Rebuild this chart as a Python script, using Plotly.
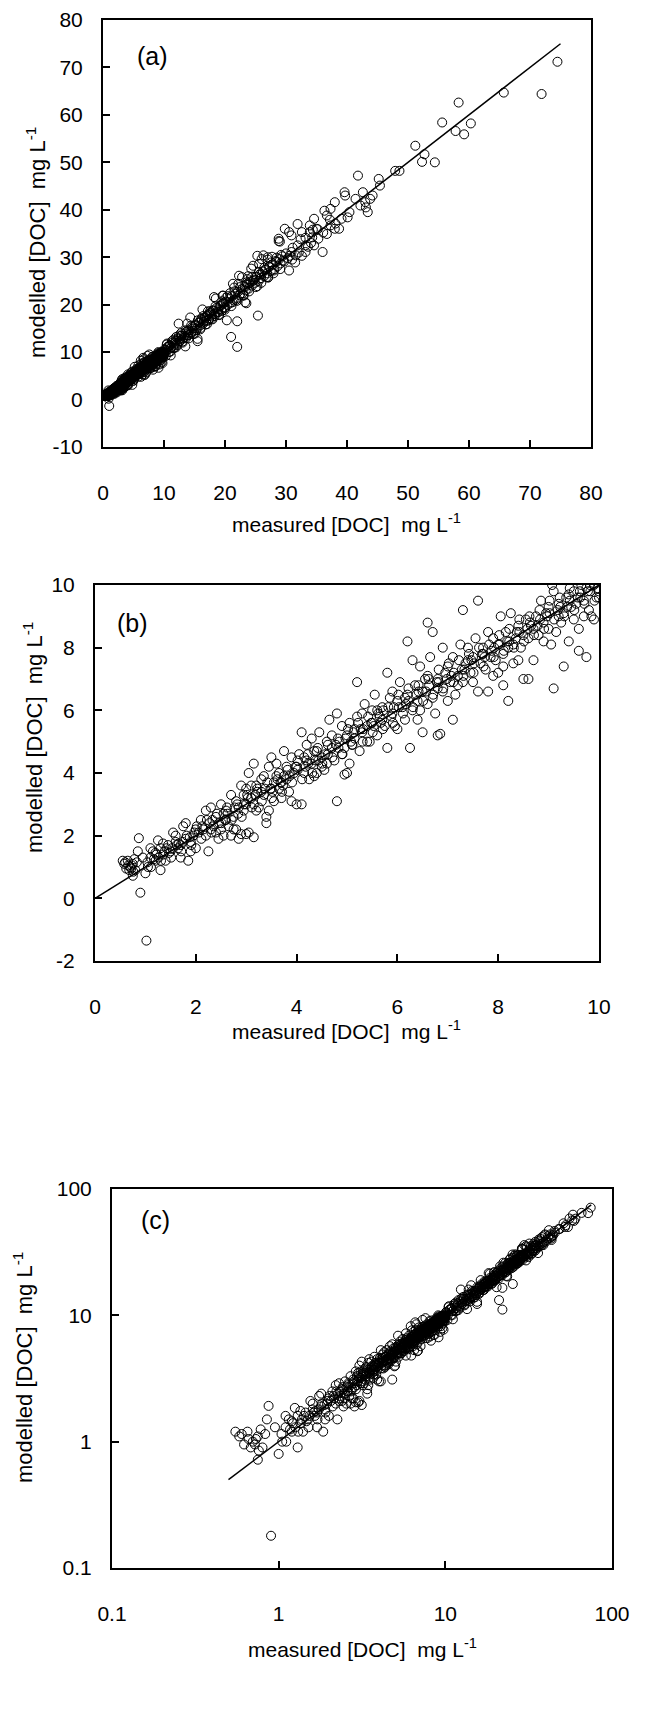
import math
import plotly.graph_objects as go

# measured vs modelled [DOC] (mg L-1), grouped by measured range
meas_lt2 = [0.55, 0.60, 0.62, 0.65, 0.68, 0.70, 0.72, 0.73, 0.75, 0.75,
            0.76, 0.78, 0.80, 0.85, 0.87, 0.90, 1.02, 0.95, 1.00, 1.05,
            1.10, 1.10, 1.15, 1.20, 1.20, 1.25, 1.30, 1.30, 1.35, 1.35,
            1.40, 1.45, 1.50, 1.55, 1.60, 1.60, 1.65, 1.70, 1.70, 1.75,
            1.80, 1.80, 1.85, 1.90, 1.90, 1.95, 2.00, 0.66, 0.58, 0.83]
mod_lt2 = [1.20, 1.15, 0.95, 1.20, 0.90, 1.00, 0.95, 1.05, 1.10, 0.72,
           0.85, 1.25, 0.90, 1.50, 1.92, 0.18, -1.35, 1.30, 0.80, 1.00,
           1.30, 1.60, 1.50, 1.20, 1.45, 1.85, 0.90, 1.60, 1.40, 1.75,
           1.20, 1.70, 1.50, 2.10, 1.80, 2.00, 1.60, 1.30, 1.70, 2.30,
           1.90, 2.40, 1.20, 1.50, 1.80, 2.00, 2.20, 1.05, 1.10, 1.15]

meas_2_4 = [2.00, 2.10, 2.20, 2.25, 2.30, 2.35, 2.40, 2.45, 2.50, 2.50,
            2.55, 2.60, 2.65, 2.70, 2.70, 2.75, 2.80, 2.80, 2.85, 2.90,
            2.90, 2.95, 3.00, 3.05, 3.15, 2.20, 2.40, 2.60, 2.30, 2.15,
            2.85, 2.95, 3.00, 2.55, 2.75, 3.00, 3.05, 3.10, 3.15, 3.20,
            3.25, 3.30, 3.35, 3.40, 3.45, 3.50, 3.50, 3.55, 3.60, 3.65,
            3.70, 3.75, 3.80, 3.85, 3.90, 3.95, 3.40, 3.45, 3.20, 3.30,
            3.60, 3.70, 3.80, 3.90, 3.10, 3.35, 3.55, 3.75, 3.15, 3.65]
mod_2_4 = [1.60, 2.50, 2.00, 1.50, 2.90, 2.30, 2.60, 1.90, 3.00, 2.20,
           2.00, 2.80, 2.30, 3.30, 2.00, 2.60, 3.10, 2.20, 1.90, 2.05,
           3.60, 2.80, 2.05, 2.10, 1.95, 2.80, 2.10, 2.50, 2.20, 2.20,
           2.90, 3.30, 3.00, 2.70, 2.20, 3.50, 4.00, 3.20, 4.30, 3.60,
           2.90, 3.80, 3.30, 2.60, 4.20, 3.50, 4.50, 3.10, 3.90, 3.50,
           3.20, 4.70, 3.80, 3.40, 4.50, 4.00, 2.40, 2.80, 2.80, 3.40,
           4.30, 3.70, 4.20, 3.10, 3.60, 3.90, 3.70, 3.90, 3.00, 4.00]

meas_4_6 = [4.00, 4.10, 4.00, 4.05, 4.10, 4.15, 4.20, 4.25, 4.30, 4.30,
            4.35, 4.40, 4.45, 4.50, 4.55, 4.60, 4.60, 4.65, 4.70, 4.75,
            4.80, 4.80, 4.85, 4.90, 4.95, 5.00, 5.05, 4.20, 4.40, 4.70,
            4.90, 4.50, 4.15, 4.35, 4.95, 5.00, 5.05, 5.10, 5.15, 5.20,
            5.20, 5.25, 5.30, 5.35, 5.40, 5.45, 5.50, 5.50, 5.55, 5.60,
            5.65, 5.70, 5.75, 5.80, 5.80, 5.85, 5.90, 5.95, 6.00, 5.30,
            5.60, 5.40, 5.70, 5.90, 5.15]
mod_4_6 = [3.00, 3.00, 4.20, 4.60, 5.30, 4.00, 4.40, 3.80, 5.10, 4.30,
           4.70, 4.00, 5.30, 4.50, 4.10, 5.00, 4.30, 5.70, 4.80, 4.40,
           5.90, 3.10, 5.00, 4.60, 3.95, 4.00, 4.30, 4.90, 4.70, 5.20,
           5.50, 4.20, 4.50, 3.90, 4.80, 5.20, 5.60, 4.90, 5.40, 6.90,
           5.80, 4.70, 5.30, 6.20, 5.50, 5.00, 6.00, 5.60, 6.50, 5.20,
           5.80, 6.10, 5.50, 4.80, 7.20, 6.40, 5.90, 5.50, 6.30, 5.90,
           6.00, 5.00, 5.70, 6.60, 5.10]

meas_6_8 = [6.00, 6.05, 6.10, 6.15, 6.20, 6.20, 6.25, 6.30, 6.30, 6.35,
            6.40, 6.45, 6.50, 6.50, 6.55, 6.60, 6.60, 6.65, 6.70, 6.70,
            6.75, 6.80, 6.80, 6.85, 6.90, 6.90, 6.95, 6.40, 6.60, 6.80,
            6.15, 6.45, 7.00, 7.00, 7.05, 7.10, 7.10, 7.15, 7.20, 7.25,
            7.30, 7.30, 7.35, 7.40, 7.45, 7.50, 7.50, 7.55, 7.60, 7.60,
            7.65, 7.70, 7.75, 7.80, 7.80, 7.85, 7.90, 7.95, 7.20, 7.40,
            7.70, 7.90]
mod_6_8 = [5.40, 6.90, 6.10, 5.70, 8.20, 6.50, 4.80, 7.60, 6.00, 6.80,
           5.70, 7.40, 5.30, 6.60, 7.00, 8.80, 6.20, 7.70, 8.50, 6.40,
           5.90, 7.00, 5.20, 5.25, 8.00, 6.60, 7.20, 6.30, 7.10, 6.70,
           6.40, 6.00, 7.40, 6.30, 6.90, 5.70, 7.70, 6.50, 7.10, 8.10,
           9.20, 6.90, 7.50, 8.00, 7.20, 7.70, 6.90, 8.30, 9.50, 6.60,
           7.50, 8.00, 7.30, 6.60, 8.50, 7.70, 8.30, 7.60, 6.80, 7.60,
           7.80, 7.10]

meas_8_10 = [8.00, 8.00, 8.05, 8.10, 8.10, 8.15, 8.20, 8.20, 8.25, 8.30,
             8.35, 8.40, 8.40, 8.45, 8.50, 8.55, 8.60, 8.60, 8.65, 8.70,
             8.75, 8.80, 8.85, 8.90, 8.95, 8.30, 8.50, 8.70, 8.90, 8.10,
             9.00, 9.05, 9.10, 9.10, 9.15, 9.20, 9.25, 9.30, 9.30, 9.35,
             9.40, 9.45, 9.50, 9.50, 9.55, 9.60, 9.60, 9.65, 9.70, 9.75,
             9.75, 9.80, 9.85, 9.90, 9.95, 9.00, 9.20, 9.40, 9.70, 9.90,
             9.07, 10.00]
mod_8_10 = [7.20, 8.10, 9.00, 6.80, 7.80, 8.50, 6.30, 8.00, 9.10, 7.50,
            8.30, 8.70, 7.60, 8.00, 7.00, 8.90, 7.00, 8.30, 8.70, 7.60,
            9.00, 8.40, 9.50, 8.20, 9.10, 8.10, 8.40, 8.60, 8.80, 7.40,
            9.30, 8.10, 6.70, 9.80, 8.50, 9.40, 8.80, 7.40, 9.10, 9.60,
            8.20, 9.30, 9.80, 8.90, 9.40, 7.90, 8.60, 10.00, 9.50, 7.70,
            9.90, 9.20, 9.00, 10.00, 9.60, 8.60, 9.00, 9.70, 9.00, 8.90,
            10.00, 9.60]

# dense core of the cloud close to the 1:1 line
meas_core_a = [1.04, 1.17, 1.26, 1.38, 1.47, 1.53, 1.66, 1.74, 1.88, 1.97,
               2.06, 2.13, 2.27, 2.33, 2.46, 2.58, 2.63, 2.77, 2.84, 2.96,
               3.03, 3.18, 3.22, 3.37, 3.48, 3.52, 3.68, 3.73, 3.86, 3.98,
               4.02, 4.18, 4.23, 4.38, 4.43, 4.57, 4.62, 4.78, 4.83, 4.97,
               5.08, 5.13, 5.27, 5.32, 5.48, 5.53, 5.67, 5.72, 5.88, 5.93,
               6.03, 6.17, 6.22, 6.38, 6.42, 6.57, 6.63, 6.78, 6.82, 6.98,
               7.07, 7.12, 7.28, 7.33, 7.47, 7.52, 7.68, 7.73, 7.87, 7.92,
               8.03, 8.18, 8.22, 8.37, 8.42, 8.58, 8.63, 8.78, 8.83, 8.97,
               9.02, 9.18, 9.23, 9.37, 9.42, 9.58, 9.63, 9.78, 9.83, 9.97]
mod_core_a = [1.15, 1.25, 1.30, 1.50, 1.45, 1.60, 1.75, 1.80, 1.95, 2.10,
              2.10, 2.30, 2.40, 2.50, 2.40, 2.50, 2.70, 2.90, 2.70, 3.00,
              3.20, 3.30, 3.40, 3.50, 3.50, 3.40, 3.70, 3.60, 3.90, 4.20,
              4.10, 4.20, 4.30, 4.40, 4.40, 4.60, 4.60, 4.90, 4.80, 5.10,
              5.00, 5.30, 5.40, 5.40, 5.60, 5.50, 5.60, 6.00, 5.80, 6.10,
              6.10, 6.20, 6.30, 6.50, 6.60, 6.60, 6.80, 6.90, 6.90, 7.00,
              7.10, 7.20, 7.30, 7.30, 7.60, 7.50, 7.80, 7.70, 7.90, 8.00,
              8.10, 8.20, 8.20, 8.50, 8.50, 8.60, 8.80, 8.70, 8.90, 9.00,
              9.10, 9.20, 9.30, 9.30, 9.50, 9.60, 9.60, 9.80, 9.80, 9.90]

meas_core_b = [1.11, 1.22, 1.31, 1.42, 1.51, 1.62, 1.71, 1.82, 1.91, 2.02,
               2.11, 2.22, 2.31, 2.42, 2.51, 2.62, 2.71, 2.82, 2.91, 3.02,
               3.11, 3.22, 3.31, 3.42, 3.51, 3.62, 3.71, 3.82, 3.91, 4.02,
               4.11, 4.22, 4.31, 4.42, 4.51, 4.62, 4.71, 4.82, 4.91, 5.02,
               5.11, 5.22, 5.31, 5.42, 5.51, 5.62, 5.71, 5.82, 5.91, 6.02,
               6.11, 6.22, 6.31, 6.42, 6.51, 6.62, 6.71, 6.82, 6.91, 7.02,
               7.11, 7.22, 7.31, 7.42, 7.51, 7.62, 7.71, 7.82, 7.91, 8.02,
               8.11, 8.22, 8.31, 8.42, 8.51, 8.62, 8.71, 8.82, 8.91, 9.02,
               9.11, 9.22, 9.31, 9.42, 9.51, 9.62, 9.71, 9.82, 9.91, 9.99]
mod_core_b = [1.00, 1.40, 1.20, 1.60, 1.30, 1.70, 1.50, 2.00, 1.70, 2.30,
              1.90, 2.50, 2.10, 2.70, 2.40, 2.90, 2.50, 3.00, 2.60, 3.30,
              2.90, 3.50, 3.10, 3.70, 3.20, 3.80, 3.40, 4.10, 3.70, 4.40,
              3.80, 4.60, 4.00, 4.80, 4.30, 4.90, 4.50, 5.10, 4.60, 5.40,
              4.90, 5.60, 5.00, 5.80, 5.30, 5.90, 5.40, 6.10, 5.60, 6.50,
              5.90, 6.70, 6.10, 6.80, 6.30, 7.00, 6.50, 7.30, 6.70, 7.50,
              6.90, 7.60, 7.10, 7.80, 7.20, 8.00, 7.40, 8.10, 7.70, 8.40,
              7.90, 8.60, 8.00, 8.90, 8.20, 9.00, 8.40, 9.20, 8.60, 9.50,
              8.90, 9.60, 9.00, 9.90, 9.20, 9.80, 9.40, 10.00, 9.50, 9.80]

meas_10_30 = [10.2, 10.5, 10.8, 11.0, 11.3, 11.5, 11.8, 12.0, 12.2, 12.5,
              12.8, 13.0, 13.3, 13.5, 13.8, 14.0, 14.3, 14.5, 14.8, 15.0,
              15.3, 15.5, 15.8, 16.0, 16.3, 16.5, 16.8, 17.0, 17.3, 17.5,
              17.8, 18.0, 18.3, 18.5, 18.8, 19.0, 19.3, 19.5, 19.8, 20.0,
              10.3, 11.2, 12.6, 13.9, 15.1, 16.6, 17.7, 18.9, 11.7, 14.6,
              16.1, 17.2, 19.7, 12.9, 10.7, 13.6, 18.2, 11.1, 12.4, 13.8,
              15.5, 18.2, 19.6, 20.2, 20.3, 20.8, 21.0, 21.2, 21.3, 21.5,
              21.8, 22.0, 22.0, 22.2, 22.3, 22.5, 22.8, 23.0, 23.3, 23.3,
              23.5, 23.7, 23.8, 24.0, 24.3, 24.6, 24.6, 25.0, 25.3, 25.3,
              25.4, 25.6, 26.0, 26.0, 26.3, 26.5, 26.8, 27.0, 27.0, 27.1,
              27.3, 27.7, 28.0, 28.4, 29.2, 29.5]
mod_10_30 = [10.5, 11.8, 10.0, 11.5, 12.3, 10.8, 12.0, 13.2, 11.5, 12.7,
             14.0, 12.2, 13.5, 11.2, 14.5, 13.6, 17.3, 14.2, 13.8, 15.6,
             14.6, 12.3, 16.2, 15.1, 19.0, 16.4, 15.8, 17.6, 16.7, 18.2,
             17.0, 18.8, 17.6, 21.3, 18.5, 17.9, 19.8, 18.7, 20.4, 19.3,
             9.2, 11.0, 12.3, 13.9, 15.0, 16.7, 17.9, 19.0, 10.9, 15.3,
             17.0, 18.6, 21.9, 13.5, 11.2, 12.9, 18.0, 9.3, 16.0, 16.0,
             12.8, 21.6, 21.9, 21.5, 16.7, 22.4, 13.2, 20.5, 24.4, 23.6,
             21.0, 11.1, 16.5, 24.4, 26.1, 22.3, 25.8, 22.0, 23.7, 20.5,
             20.3, 25.4, 26.0, 24.5, 27.6, 25.0, 28.2, 25.8, 23.9, 30.3,
             17.7, 28.6, 26.4, 29.6, 30.4, 27.3, 25.8, 29.5, 30.0, 25.8,
             28.0, 30.1, 27.2, 29.0, 30.5, 29.3]

meas_core_c = [10.1, 10.4, 10.6, 10.9, 11.1, 11.4, 11.6, 11.9, 12.1, 12.3,
               12.6, 12.8, 13.1, 13.4, 13.6, 13.9, 14.1, 14.4, 14.7, 14.9,
               15.2, 15.4, 15.7, 15.9, 16.2, 16.4, 16.7, 16.9, 17.2, 17.4,
               17.6, 17.9, 18.1, 18.4, 18.6, 18.9, 19.1, 19.4, 19.6, 19.9,
               20.1, 20.4, 20.7, 20.9, 21.1, 21.4, 21.7, 21.9, 22.1, 22.4,
               22.7, 22.9, 23.2, 23.4, 23.6, 23.9, 24.2, 24.4, 24.7, 24.9,
               25.2, 25.5, 25.7, 25.9, 26.2, 26.4, 26.7, 26.9, 27.2, 27.5,
               27.8, 28.1, 28.3, 28.6, 28.9, 29.1, 29.4, 29.7, 30.0, 30.3]
mod_core_c = [10.6, 10.2, 11.1, 11.3, 10.8, 12.0, 11.4, 12.4, 11.8, 12.9,
              12.3, 13.4, 12.9, 13.1, 14.2, 13.5, 14.6, 13.9, 15.0, 14.5,
              15.7, 15.0, 16.3, 15.6, 16.8, 16.0, 17.3, 16.5, 17.8, 17.0,
              18.2, 17.5, 18.7, 18.0, 19.3, 18.4, 19.7, 19.0, 20.2, 19.5,
              20.6, 19.9, 21.3, 20.4, 21.8, 20.9, 22.3, 21.4, 22.7, 22.0,
              23.2, 22.4, 23.9, 23.0, 24.3, 23.4, 24.9, 24.0, 25.2, 24.6,
              25.9, 25.0, 26.4, 25.6, 27.0, 26.0, 27.4, 26.6, 28.0, 27.1,
              28.5, 27.5, 29.2, 28.1, 29.6, 28.7, 30.2, 29.1, 30.8, 29.8]

meas_core_d = [10.45, 11.05, 11.55, 11.95, 12.45, 13.05, 13.55, 14.05, 14.45, 15.05,
               15.55, 15.95, 16.45, 17.05, 17.55, 17.95, 18.45, 19.05, 19.55, 19.95,
               20.45, 21.05, 21.55, 21.95, 22.45, 23.05, 23.55, 23.95, 24.45, 25.05,
               25.55, 25.95, 26.45, 27.05, 27.55, 27.95, 28.45, 29.05, 31.1, 32.1,
               33.2, 34.1, 35.2, 36.1, 37.2, 38.1, 31.6, 32.4, 33.6, 34.4]
mod_core_d = [11.6, 10.1, 12.6, 11.0, 13.5, 12.0, 14.6, 12.9, 15.6, 13.9,
              16.7, 14.8, 17.6, 15.9, 18.6, 16.9, 19.7, 17.8, 20.7, 18.9,
              21.8, 19.7, 22.8, 20.8, 23.7, 21.9, 24.7, 22.8, 25.9, 23.7,
              26.9, 24.6, 27.8, 25.7, 28.9, 26.6, 29.9, 27.5, 32.0, 31.0,
              34.1, 33.0, 35.9, 35.2, 37.9, 37.1, 30.4, 33.8, 32.2, 35.8]

meas_30_75 = [29.8, 30.5, 30.9, 28.8, 28.8, 30.5, 31.9, 32.6, 33.2, 33.9,
              34.6, 35.3, 36.0, 36.3, 37.3, 38.0, 37.3, 38.7, 39.1, 39.6,
              39.7, 40.4, 41.8, 42.2, 42.6, 43.0, 43.4, 43.8, 45.2, 45.4,
              47.9, 48.6, 51.2, 52.7, 52.3, 54.4, 55.6, 57.8, 58.3, 59.2,
              60.3, 65.7, 71.9, 74.5, 33.9, 34.6, 35.0, 36.7, 38.0, 33.2,
              32.6, 31.5, 30.9, 31.9, 40.1, 41.4, 43.1, 44.2, 36.7, 34.3,
              31.0, 30.6, 29.0]
mod_30_75 = [36.0, 35.3, 34.6, 33.9, 33.4, 27.2, 37.0, 35.3, 32.5, 36.7,
             38.1, 33.9, 31.1, 39.8, 40.2, 41.6, 36.7, 36.0, 38.1, 43.7,
             43.0, 39.5, 47.2, 40.9, 43.7, 41.6, 39.5, 42.3, 46.5, 45.1,
             48.2, 48.2, 53.5, 51.7, 50.1, 50.0, 58.4, 56.6, 62.6, 55.9,
             58.2, 64.7, 64.4, 71.2, 35.3, 32.5, 36.0, 34.9, 36.0, 31.1,
             30.3, 28.9, 31.1, 32.5, 38.4, 42.3, 40.5, 43.0, 38.8, 34.2,
             29.5, 30.3, 33.3]

# 1:1 line end points
line_lin = [0, 75]
line_log = [0.5, 75]

# tick values / labels (hyphen minus as in the original)
a_x_ticks = [0, 10, 20, 30, 40, 50, 60, 70, 80]
a_y_ticks = [-10, 0, 10, 20, 30, 40, 50, 60, 70, 80]
b_x_ticks = [0, 2, 4, 6, 8, 10]
b_y_ticks = [-2, 0, 2, 4, 6, 8, 10]
log_ticks = [0.1, 1, 10, 100]
log_labels = ["0.1", "1", "10", "100"]

measured = (meas_lt2 + meas_2_4 + meas_4_6 + meas_6_8 + meas_8_10 +
            meas_core_a + meas_core_b + meas_10_30 + meas_core_c +
            meas_core_d + meas_30_75)
modelled = (mod_lt2 + mod_2_4 + mod_4_6 + mod_6_8 + mod_8_10 +
            mod_core_a + mod_core_b + mod_10_30 + mod_core_c +
            mod_core_d + mod_30_75)

W, H = 646, 1717
FONT = "Liberation Sans, Arial, sans-serif"
XTITLE = "measured [DOC]\u00a0 mg L<sup>-1</sup>"
YTITLE = "modelled [DOC]\u00a0 mg L<sup>-1</sup>"

# panel boxes in pixels: left, right, top, bottom
boxes = [(95, 583, 12, 439), (87, 591, 577, 953), (104, 604, 1181, 1560)]
xtitle_y = [515, 1022, 1640]
ytitle_xy = [(28, 235), (25, 730), (15, 1360)]
panel_names = ["(a)", "(b)", "(c)"]
label_pos = [(8.1, 72.4), (0.75, 8.8), (math.log10(0.182), math.log10(57))]


def lin_axis(vals, rng):
    return dict(range=rng, tickvals=vals, ticktext=[str(v) for v in vals])


ranges = [
    (lin_axis(a_x_ticks, [0, 80]), lin_axis(a_y_ticks, [-10, 80])),
    (lin_axis(b_x_ticks, [0, 10]), lin_axis(b_y_ticks, [-2, 10])),
    (dict(type="log", range=[-1, 2], tickvals=log_ticks, ticktext=log_labels),
     dict(type="log", range=[-1, 2], tickvals=log_ticks, ticktext=log_labels)),
]

fig = go.Figure()

for i in range(3):
    xa = "x" if i == 0 else f"x{i + 1}"
    ya = "y" if i == 0 else f"y{i + 1}"
    lx = line_log if i == 2 else line_lin
    fig.add_trace(go.Scatter(x=lx, y=lx, mode="lines", xaxis=xa, yaxis=ya,
                             line=dict(color="black", width=1.5), showlegend=False))
    fig.add_trace(go.Scatter(x=measured, y=modelled, mode="markers", xaxis=xa, yaxis=ya,
                             marker=dict(symbol="circle-open", size=9, color="black",
                                         line=dict(width=1)),
                             showlegend=False))

axis_common = dict(showline=True, linecolor="black", linewidth=2, mirror=True,
                   ticks="inside", ticklen=7, tickwidth=1.5, tickcolor="black",
                   showgrid=False, zeroline=False, automargin=False,
                   ticklabeloverflow="allow",
                   tickfont=dict(family=FONT, size=21, color="black"))

layout = dict(width=W, height=H, margin=dict(l=0, r=0, t=0, b=0),
              paper_bgcolor="white", plot_bgcolor="white", showlegend=False)

annotations = []
for i, (l, r, t, b) in enumerate(boxes):
    xk = "xaxis" if i == 0 else f"xaxis{i + 1}"
    yk = "yaxis" if i == 0 else f"yaxis{i + 1}"
    ya = "y" if i == 0 else f"y{i + 1}"
    xa = "x" if i == 0 else f"x{i + 1}"
    xr, yr = ranges[i]
    layout[xk] = dict(axis_common, domain=[l / W, r / W], anchor=ya,
                      ticklabelstandoff=26, **xr)
    layout[yk] = dict(axis_common, domain=[1 - b / H, 1 - t / H], anchor=xa,
                      ticklabelstandoff=14, **yr)
    annotations.append(dict(text=XTITLE, xref="paper", yref="paper",
                            x=(l + r) / 2 / W, y=1 - xtitle_y[i] / H,
                            xanchor="center", yanchor="middle", showarrow=False,
                            font=dict(family=FONT, size=21, color="black")))
    annotations.append(dict(text=YTITLE, xref="paper", yref="paper", textangle=-90,
                            x=ytitle_xy[i][0] / W, y=1 - ytitle_xy[i][1] / H,
                            xanchor="center", yanchor="middle", showarrow=False,
                            font=dict(family=FONT, size=22, color="black")))
    annotations.append(dict(text=panel_names[i], xref=xa, yref=ya,
                            x=label_pos[i][0], y=label_pos[i][1],
                            xanchor="center", yanchor="middle", showarrow=False,
                            font=dict(family=FONT, size=25, color="black")))

layout["annotations"] = annotations
fig.update_layout(**layout)

fig.write_html("out.html")
